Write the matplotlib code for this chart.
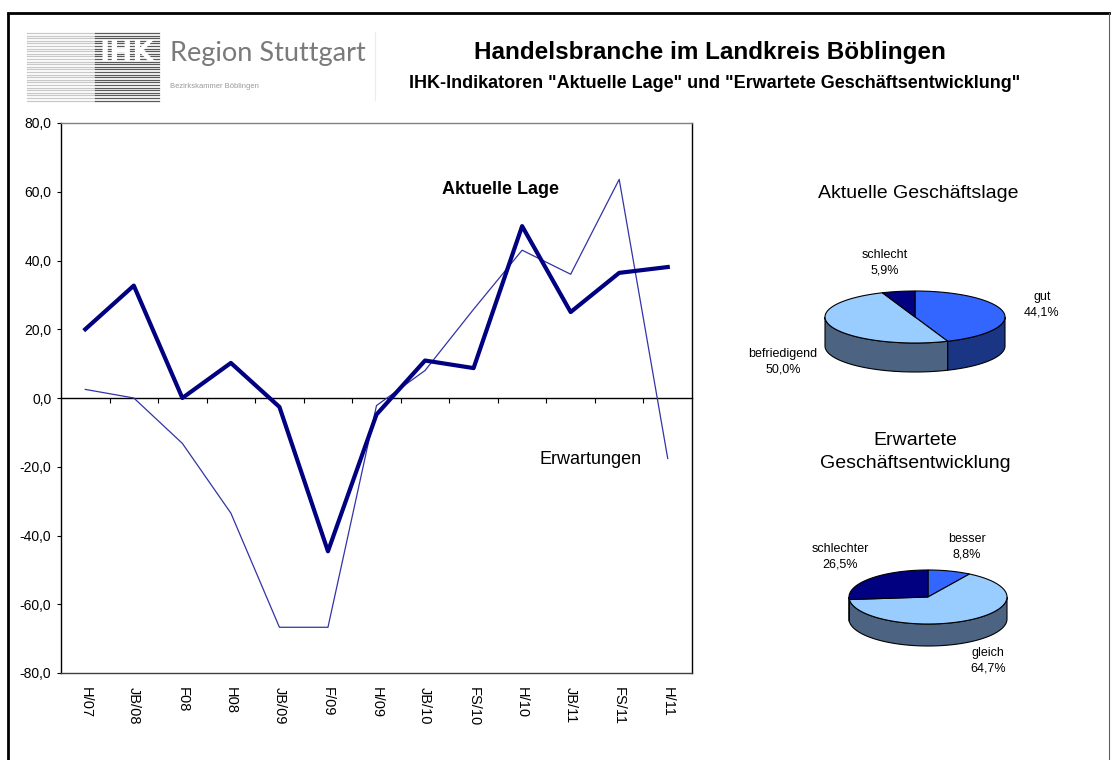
import matplotlib
matplotlib.use('Agg')

import numpy as np
import matplotlib.pyplot as plt
from matplotlib.patches import Polygon
from matplotlib.ticker import FuncFormatter

plt.rcParams['font.family'] = ['Liberation Sans', 'DejaVu Sans']

W, H = 1111, 760

# Zeitreihen (Saldo in Prozentpunkten)
periods = ['H/07', 'JB/08', 'F08', 'H08', 'JB/09', 'F/09', 'H/09',
           'JB/10', 'FS/10', 'H/10', 'JB/11', 'FS/11', 'H/11']
lage = [20.0, 32.7, 0.0, 10.2, -2.6, -44.6, -4.8, 10.9, 8.7, 50.0, 25.0, 36.4, 38.1]
erwartungen = [2.5, 0.0, -13.2, -33.5, -66.7, -66.7, -2.2, 8.0, 25.8, 43.0, 36.0, 63.6, -17.6]

# Aktuelle Umfrage
lage_labels = ['gut', 'befriedigend', 'schlecht']
lage_shares = [44.1, 50.0, 5.9]
entw_labels = ['besser', 'gleich', 'schlechter']
entw_shares = [8.8, 64.7, 26.5]


def fmt(v):
    return ('%.1f' % v).replace('.', ',')


def pie3d(ax, shares, labels, cx, cy, a, b, depth, tops, sides, label_pos):
    """
    Excel-like 3D pie, angles clockwise from 12 o'clock, pixel coords.
    """
    bounds = np.concatenate([[0], np.cumsum(shares)]) / sum(shares) * 360

    def pt(t, dy=0.0):
        r = np.radians(t)
        return (cx + a * np.sin(r), cy - b * np.cos(r) + dy)

    for t1, t2, col in zip(bounds[:-1], bounds[1:], sides):
        s1, s2 = max(t1, 90), min(t2, 270)
        if s2 <= s1:
            continue
        tt = np.linspace(s1, s2, 80)
        poly = [pt(t) for t in tt] + [pt(t, depth) for t in tt[::-1]]
        ax.add_patch(Polygon(poly, closed=True, fc=col, ec='black', lw=0.8))

    for t1, t2, col in zip(bounds[:-1], bounds[1:], tops):
        tt = np.linspace(t1, t2, 120)
        poly = [(cx, cy)] + [pt(t) for t in tt]
        ax.add_patch(Polygon(poly, closed=True, fc=col, ec='black', lw=0.8))

    for lab, share, (lx, ly) in zip(labels, shares, label_pos):
        ax.text(lx, ly, '%s\n%s%%' % (lab, fmt(share)), ha='center', va='center',
                fontsize=9, linespacing=1.4)


fig = plt.figure(figsize=(W / 100, H / 100), dpi=100)

# Liniendiagramm
ax = fig.add_axes([61 / W, 1 - 673 / H, 631 / W, 550 / H])
ax.set_zorder(1)
x = np.arange(len(periods))
ax.plot(x, erwartungen, color='#3333a8', lw=0.9, zorder=3)
ax.plot(x, lage, color='#000080', lw=3.0, zorder=4)
ax.set_xlim(-0.5, len(periods) - 0.5)
ax.set_ylim(-80, 80)
ax.set_yticks(np.arange(-80, 81, 20))
ax.yaxis.set_major_formatter(FuncFormatter(lambda v, p: fmt(v)))
ax.tick_params(axis='y', direction='out', length=3, width=0.8, labelsize=10, pad=4)
ax.set_xticks(x)
ax.set_xticklabels(periods, rotation=270, fontsize=10.5, ha='center', va='top')
ax.tick_params(axis='x', length=0, pad=10)

ax.spines['left'].set_color('black')
ax.spines['right'].set_color('black')
ax.spines['top'].set_color('#808080')
ax.spines['bottom'].set_color('#404040')
for s in ax.spines.values():
    s.set_linewidth(1.0)

zero = ax.secondary_xaxis(0, transform=ax.transData)
zero.set_xticks(x[:-1] + 0.5)
zero.set_xticklabels([])
zero.tick_params(direction='out', length=3.5, width=0.8, color='black')
zero.spines['bottom'].set_color('black')
zero.spines['bottom'].set_linewidth(1.0)

# Zeichenfläche in Pixelkoordinaten, über dem Diagramm
canvas = fig.add_axes([0, 0, 1, 1])
canvas.set_zorder(2)
canvas.set_xlim(0, W)
canvas.set_ylim(H, 0)
canvas.axis('off')

# Rahmen
canvas.plot([8, 8], [13, H], color='black', lw=2.0, solid_capstyle='butt')
canvas.plot([8, 1109], [13, 13], color='black', lw=2.0, solid_capstyle='projecting')
canvas.plot([1109, 1109], [13, H], color='#606060', lw=0.8)

# Logo
for yy in np.arange(33, 101, 2.6):
    canvas.plot([27, 95], [yy, yy], color='#c8c8c8', lw=0.9)
    canvas.plot([95, 159], [yy, yy], color='#5a5a5a', lw=0.9)
canvas.text(127, 53, 'IHK', color='white', fontsize=20, fontweight='bold',
            family='DejaVu Sans', ha='center', va='center')
canvas.text(170, 53, 'Region Stuttgart', color='#7a7a7a', fontsize=19.5,
            family='Lato', ha='left', va='center')
canvas.text(170, 86, 'Bezirkskammer Böblingen', color='#9a9a9a', fontsize=5.5,
            ha='left', va='center')
canvas.plot([375, 375], [32, 100], color='#ececec', lw=0.8)

# Titel
canvas.text(710, 53, 'Handelsbranche im Landkreis Böblingen', fontsize=17.5,
            fontweight='bold', ha='center', va='center')
canvas.text(715, 83, 'IHK-Indikatoren "Aktuelle Lage" und "Erwartete Geschäftsentwicklung"',
            fontsize=13, fontweight='bold', ha='center', va='center')

canvas.text(500, 189, 'Aktuelle Lage', fontsize=13, fontweight='bold',
            ha='center', va='center')
canvas.text(591, 459, 'Erwartungen', fontsize=13, ha='center', va='center')

# Kreisdiagramme
canvas.text(918, 193, 'Aktuelle Geschäftslage', fontsize=14, ha='center', va='center')
pie3d(canvas, lage_shares, lage_labels, 915, 317, 90, 26, 29,
      ['#3366ff', '#99ccff', '#000080'],
      ['#1a3584', '#4d6382', '#000040'],
      [(1042, 305), (783, 362), (885, 263)])

canvas.text(915, 452, 'Erwartete\nGeschäftsentwicklung', fontsize=14,
            ha='center', va='center', linespacing=1.45)
pie3d(canvas, entw_shares, entw_labels, 928, 597, 79, 27, 22,
      ['#3366ff', '#99ccff', '#000080'],
      ['#1a3584', '#4d6382', '#000040'],
      [(967, 547), (988, 661), (840, 557)])

fig.savefig('out.png', dpi=100)
